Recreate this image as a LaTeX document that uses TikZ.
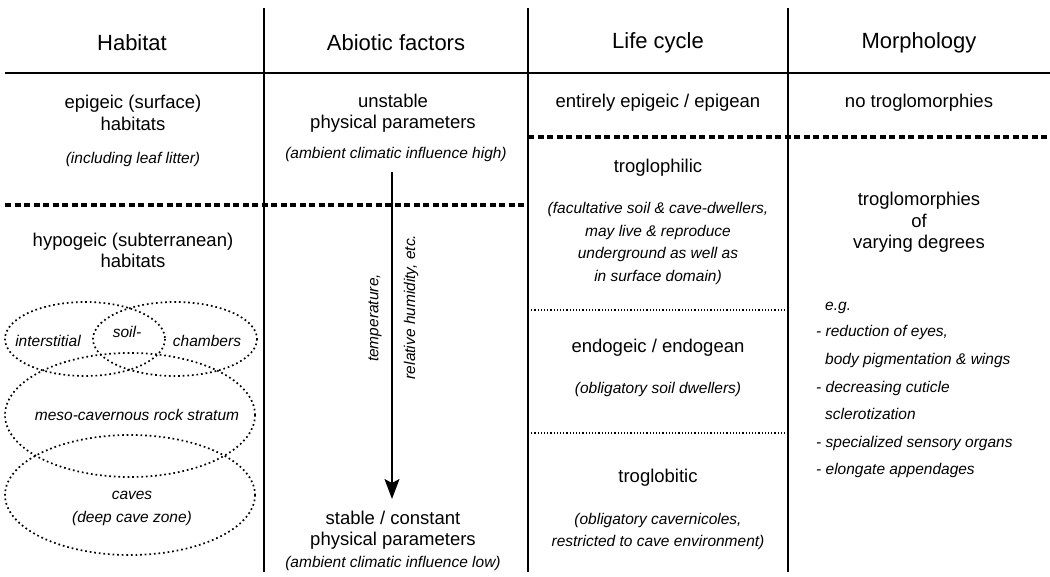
\documentclass[tikz,border=0pt]{standalone}
\usepackage{fontspec}
\setmainfont{Liberation Sans}
\usetikzlibrary{arrows.meta}
\begin{document}
\begin{tikzpicture}[x=1pt,y=-1pt,
  head/.style={font=\fontsize{22}{26}\selectfont, inner sep=0pt},
  main/.style={font=\fontsize{18.5}{21.5}\selectfont, align=center, inner sep=0pt},
  note/.style={font=\fontsize{15.5}{22.5}\selectfont\itshape, align=center, inner sep=0pt},
  item/.style={font=\fontsize{15.5}{18}\selectfont\itshape, anchor=base west, inner sep=0pt},
  rule/.style={line width=1.8pt},
  thickdash/.style={line width=3.5pt, dash pattern=on 6pt off 3.5pt},
  finedot/.style={line width=1.2pt, dash pattern=on 1.2pt off 2pt},
  ell/.style={line width=1.7pt, dash pattern=on 1.7pt off 2.9pt},
  arr/.style={line width=1.6pt, -{Stealth[length=20pt,width=15pt,inset=4pt]}}
]
\useasboundingbox (0,0) rectangle (1050,577);
% grid coordinates
\coordinate (v1t) at (264,8);  \coordinate (v1b) at (264,572);
\coordinate (v2t) at (528,8);  \coordinate (v2b) at (528,572);
\coordinate (v3t) at (788,8);  \coordinate (v3b) at (788,572);
\coordinate (hl) at (5,73);    \coordinate (hr) at (1050,73);
\coordinate (d1l) at (5,205);  \coordinate (d1r) at (528,205);
\coordinate (d2l) at (528,137);\coordinate (d2r) at (1050,137);
\coordinate (f1l) at (528,310);\coordinate (f1r) at (788,310);
\coordinate (f2l) at (528,433);\coordinate (f2r) at (788,433);
\draw[rule] (v1t) -- (v1b);
\draw[rule] (v2t) -- (v2b);
\draw[rule] (v3t) -- (v3b);
\draw[line width=1.5pt] (hl) -- (hr);
\draw[thickdash] (d1l) -- (d1r);
\draw[thickdash] (d2l) -- (d2r);
\draw[finedot] (f1l) -- (f1r);
\draw[finedot] (f2l) -- (f2r);

% headers
\node[head] (hHab) at (132,42.5) {Habitat};
\node[head] (hAbi) at (396,42.5) {Abiotic factors};
\node[head] (hLife) at (658,42.5) {Life cycle};
\node[head] (hMor) at (919,42.5) {Morphology};

% Habitat column
\node[main] (epi) at (133,113) {epigeic (surface)\\habitats};
\node[note] (leaf) at (133,159.5) {(including leaf litter)};
\node[main] (hypo) at (133,250.5) {hypogeic (subterranean)\\habitats};
\draw[ell] (85,339) ellipse [x radius=80, y radius=37];
\draw[ell] (175,339) ellipse [x radius=82, y radius=37];
\draw[ell] (130,415) ellipse [x radius=125, y radius=62];
\draw[ell] (130,495) ellipse [x radius=125, y radius=60];
\node[note] (inter) at (48,340.5) {interstitial};
\node[note] (soil) at (127,332) {soil-};
\node[note] (cham) at (207,340.5) {chambers};
\node[note] (meso) at (137,415) {meso-cavernous rock stratum};
\node[note] (caves) at (132,508.5) {caves\\(deep cave zone)};

% Abiotic column
\node[main] (unst) at (393,113) {unstable\\physical parameters};
\node[note] (high) at (396,154.5) {(ambient climatic influence high)};
\coordinate (atop) at (392,172);
\coordinate (abot) at (392,499);
\draw[arr] (atop) -- (abot);
\node[note, rotate=90] (temp) at (375,318) {temperature,};
\node[note, rotate=90] (hum) at (411,307) {relative humidity, etc.};
\node[main] (stab) at (393,530) {stable / constant\\physical parameters};
\node[note] (low) at (393,563.5) {(ambient climatic influence low)};

% Life cycle column
\node[main] (ent) at (658,103) {entirely epigeic / epigean};
\node[main] (phil) at (658,168) {troglophilic};
\node[note] (fac) at (658,243.5) {(facultative soil \& cave-dwellers,\\may live \& reproduce\\underground as well as\\in surface domain)};
\node[main] (endo) at (658,348) {endogeic / endogean};
\node[note] (soild) at (658,389.5) {(obligatory soil dwellers)};
\node[main] (bit) at (658,478) {troglobitic};
\node[note] (cav) at (658,531.5) {(obligatory cavernicoles,\\restricted to cave environment)};

% Morphology column
\node[main] (notro) at (919,103) {no troglomorphies};
\node[main] (tro) at (919,222.5) {troglomorphies\\of\\varying degrees};
\node[item] (eg) at (825,311) {e.g.};
\node[item] (i1) at (816,337) {- reduction of eyes,};
\node[item] (i1b) at (825,365) {body pigmentation \& wings};
\node[item] (i2) at (816,392) {- decreasing cuticle};
\node[item] (i2b) at (825,419) {sclerotization};
\node[item] (i3) at (816,447) {- specialized sensory organs};
\node[item] (i4) at (816,474) {- elongate appendages};
\end{tikzpicture}
\end{document}
